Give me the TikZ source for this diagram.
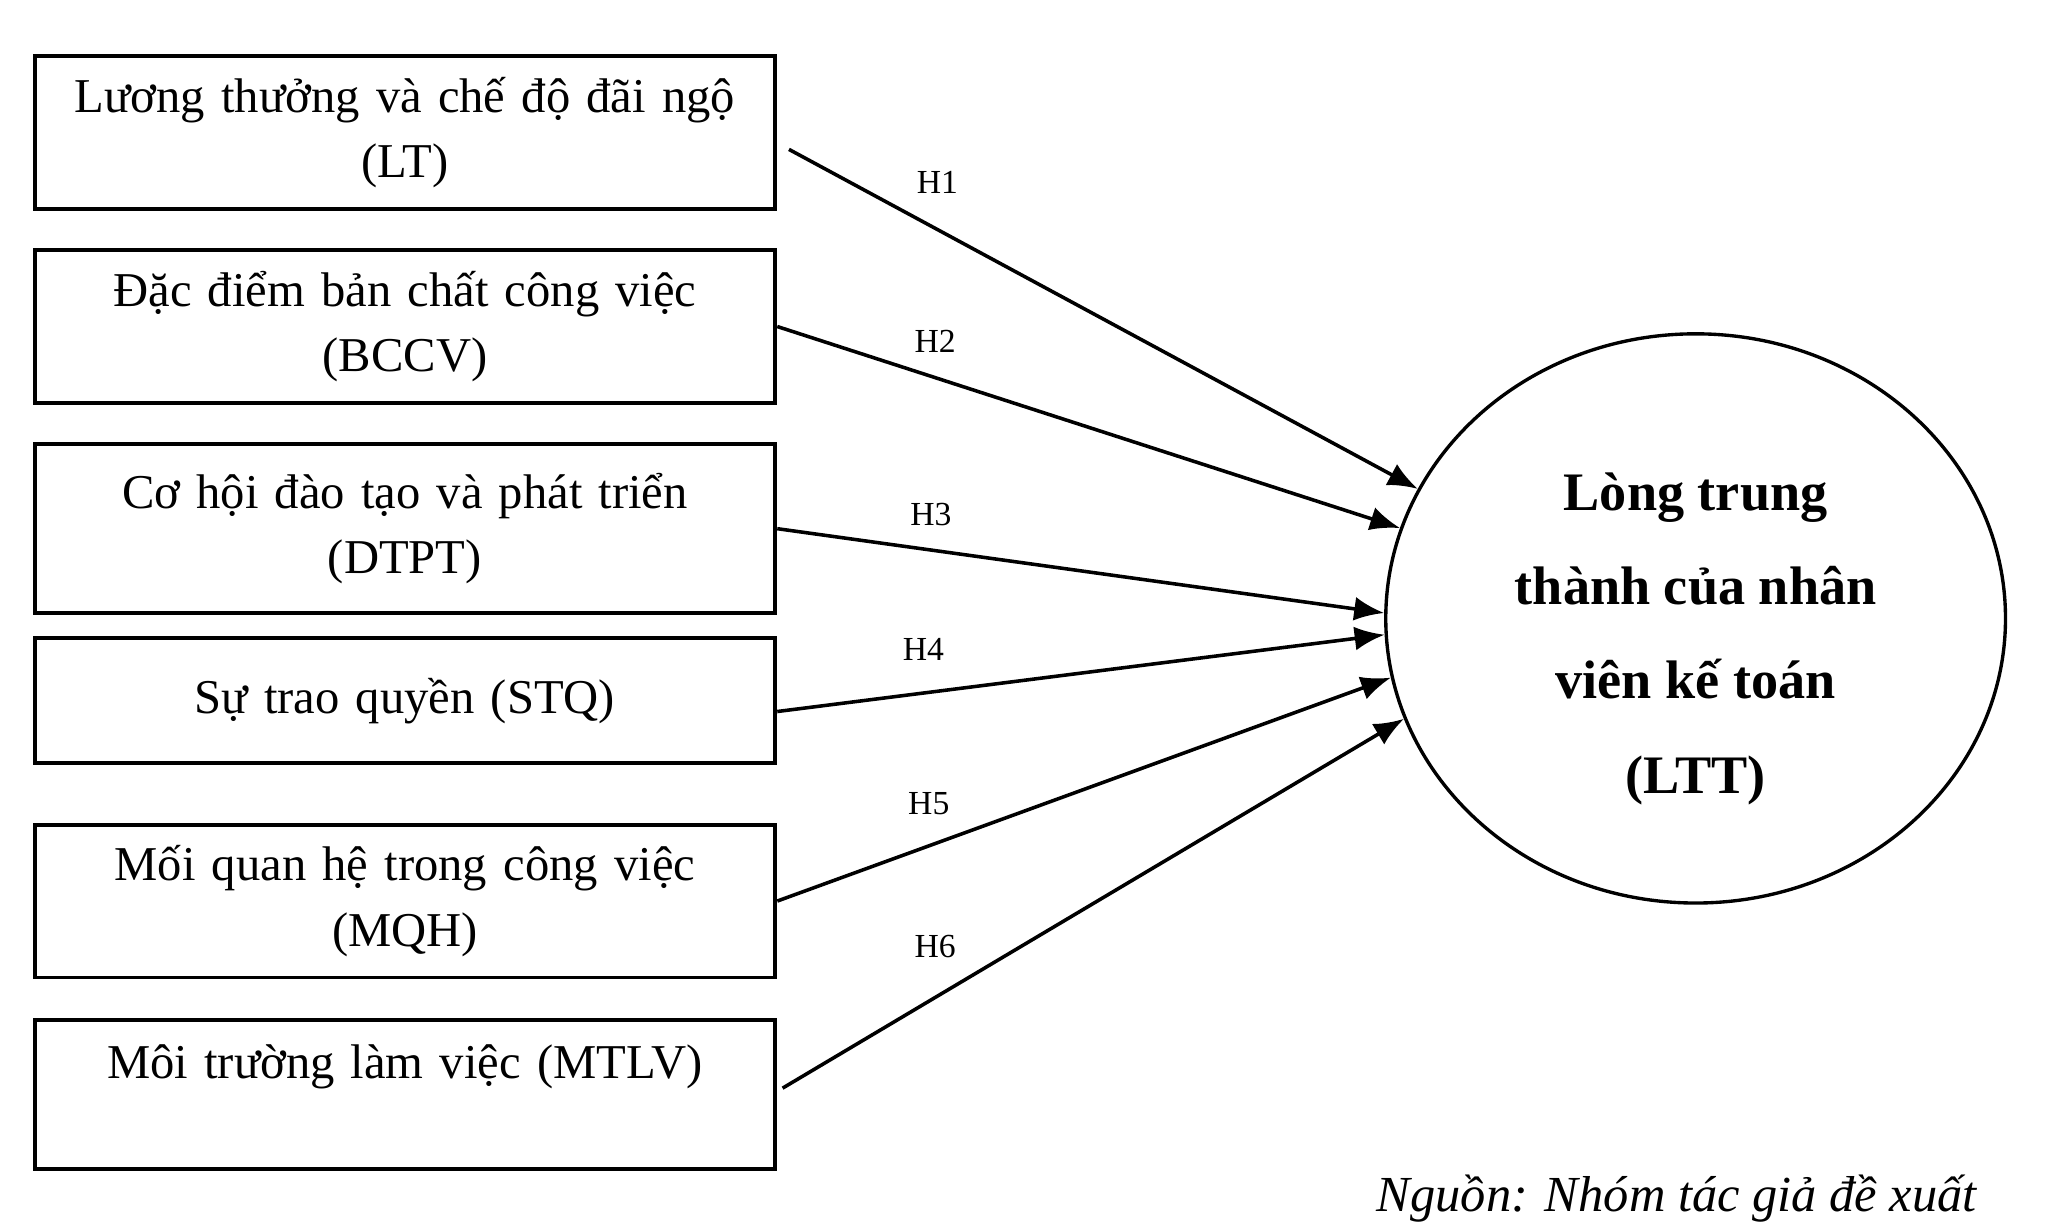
\documentclass[tikz,border=0pt]{standalone}
\usepackage{fontspec}
\setmainfont{Liberation Serif}
\usetikzlibrary{arrows.meta,shapes.geometric}

\begin{document}
\begin{tikzpicture}[factor/.style={draw,line width=1.05pt,minimum width=6.9625cm,
      text width=6.6cm,align=center,inner sep=0pt,font=\fontsize{13}{17.4}\selectfont},
   outcome/.style={draw,ellipse,line width=0.9pt,minimum width=5.825cm,minimum height=5.35cm,
      inner sep=0pt},
   hyp/.style={font=\fontsize{9}{11}\selectfont,inner sep=0pt},
   link/.style={line width=0.95pt,-{Latex[length=8pt,width=6.4pt]}}]
\useasboundingbox (0,0) rectangle (19.4,-11.5625);

\node[factor,minimum height=1.4375cm] (lt) at (3.806,-1.244) {Lương thưởng và chế độ đãi ngộ\\(LT)};
\node[factor,minimum height=1.4375cm] (bccv) at (3.806,-3.069) {Đặc điểm bản chất công việc\\(BCCV)};
\node[factor,minimum height=1.5875cm] (dtpt) at (3.806,-4.969) {Cơ hội đào tạo và phát triển\\(DTPT)};
\node[factor,minimum height=1.175cm] (stq) at (3.806,-6.5875) {Sự trao quyền (STQ)};
\node[factor,minimum height=1.4375cm] (mqh) at (3.806,-8.469) {Mối quan hệ trong công việc\\(MQH)};
\node[factor,minimum height=1.4cm] (mtlv) at (3.806,-10.2875) {Môi trường làm việc (MTLV)\\\mbox{}};

\node[outcome] (ltt) at (15.9375,-5.8125) {};
\node[align=center,font=\fontsize{14.5}{25.2}\selectfont\bfseries] (lttname)
   at ([yshift=-0.19cm]ltt.center) {Lòng trung\\thành của nhân\\viên kế toán\\(LTT)};

\draw[link] ([xshift=0.11cm,yshift=-0.16cm]lt.east) -- (ltt.155.3);
\draw[link] (bccv.east) -- (ltt.163.1);
\draw[link] (dtpt.east) -- (ltt.179.5);
\draw[link] ([yshift=-0.1cm]stq.east) -- (ltt.183.1);
\draw[link] (mqh.east) -- (ltt.191.5);
\draw[link] ([xshift=0.05cm,yshift=0.06cm]mtlv.east) -- (ltt.199.4);

\node[hyp] (h1) at (8.81,-1.71) {H1};
\node[hyp] (h2) at (8.79,-3.21) {H2};
\node[hyp] (h3) at (8.75,-4.84) {H3};
\node[hyp] (h4) at (8.68,-6.10) {H4};
\node[hyp] (h5) at (8.73,-7.55) {H5};
\node[hyp] (h6) at (8.79,-8.90) {H6};

\node[font=\fontsize{13.5}{16}\selectfont\itshape] (nguon) at (15.76,-11.27) {Nguồn: Nhóm tác giả đề xuất};
\end{tikzpicture}
\end{document}
